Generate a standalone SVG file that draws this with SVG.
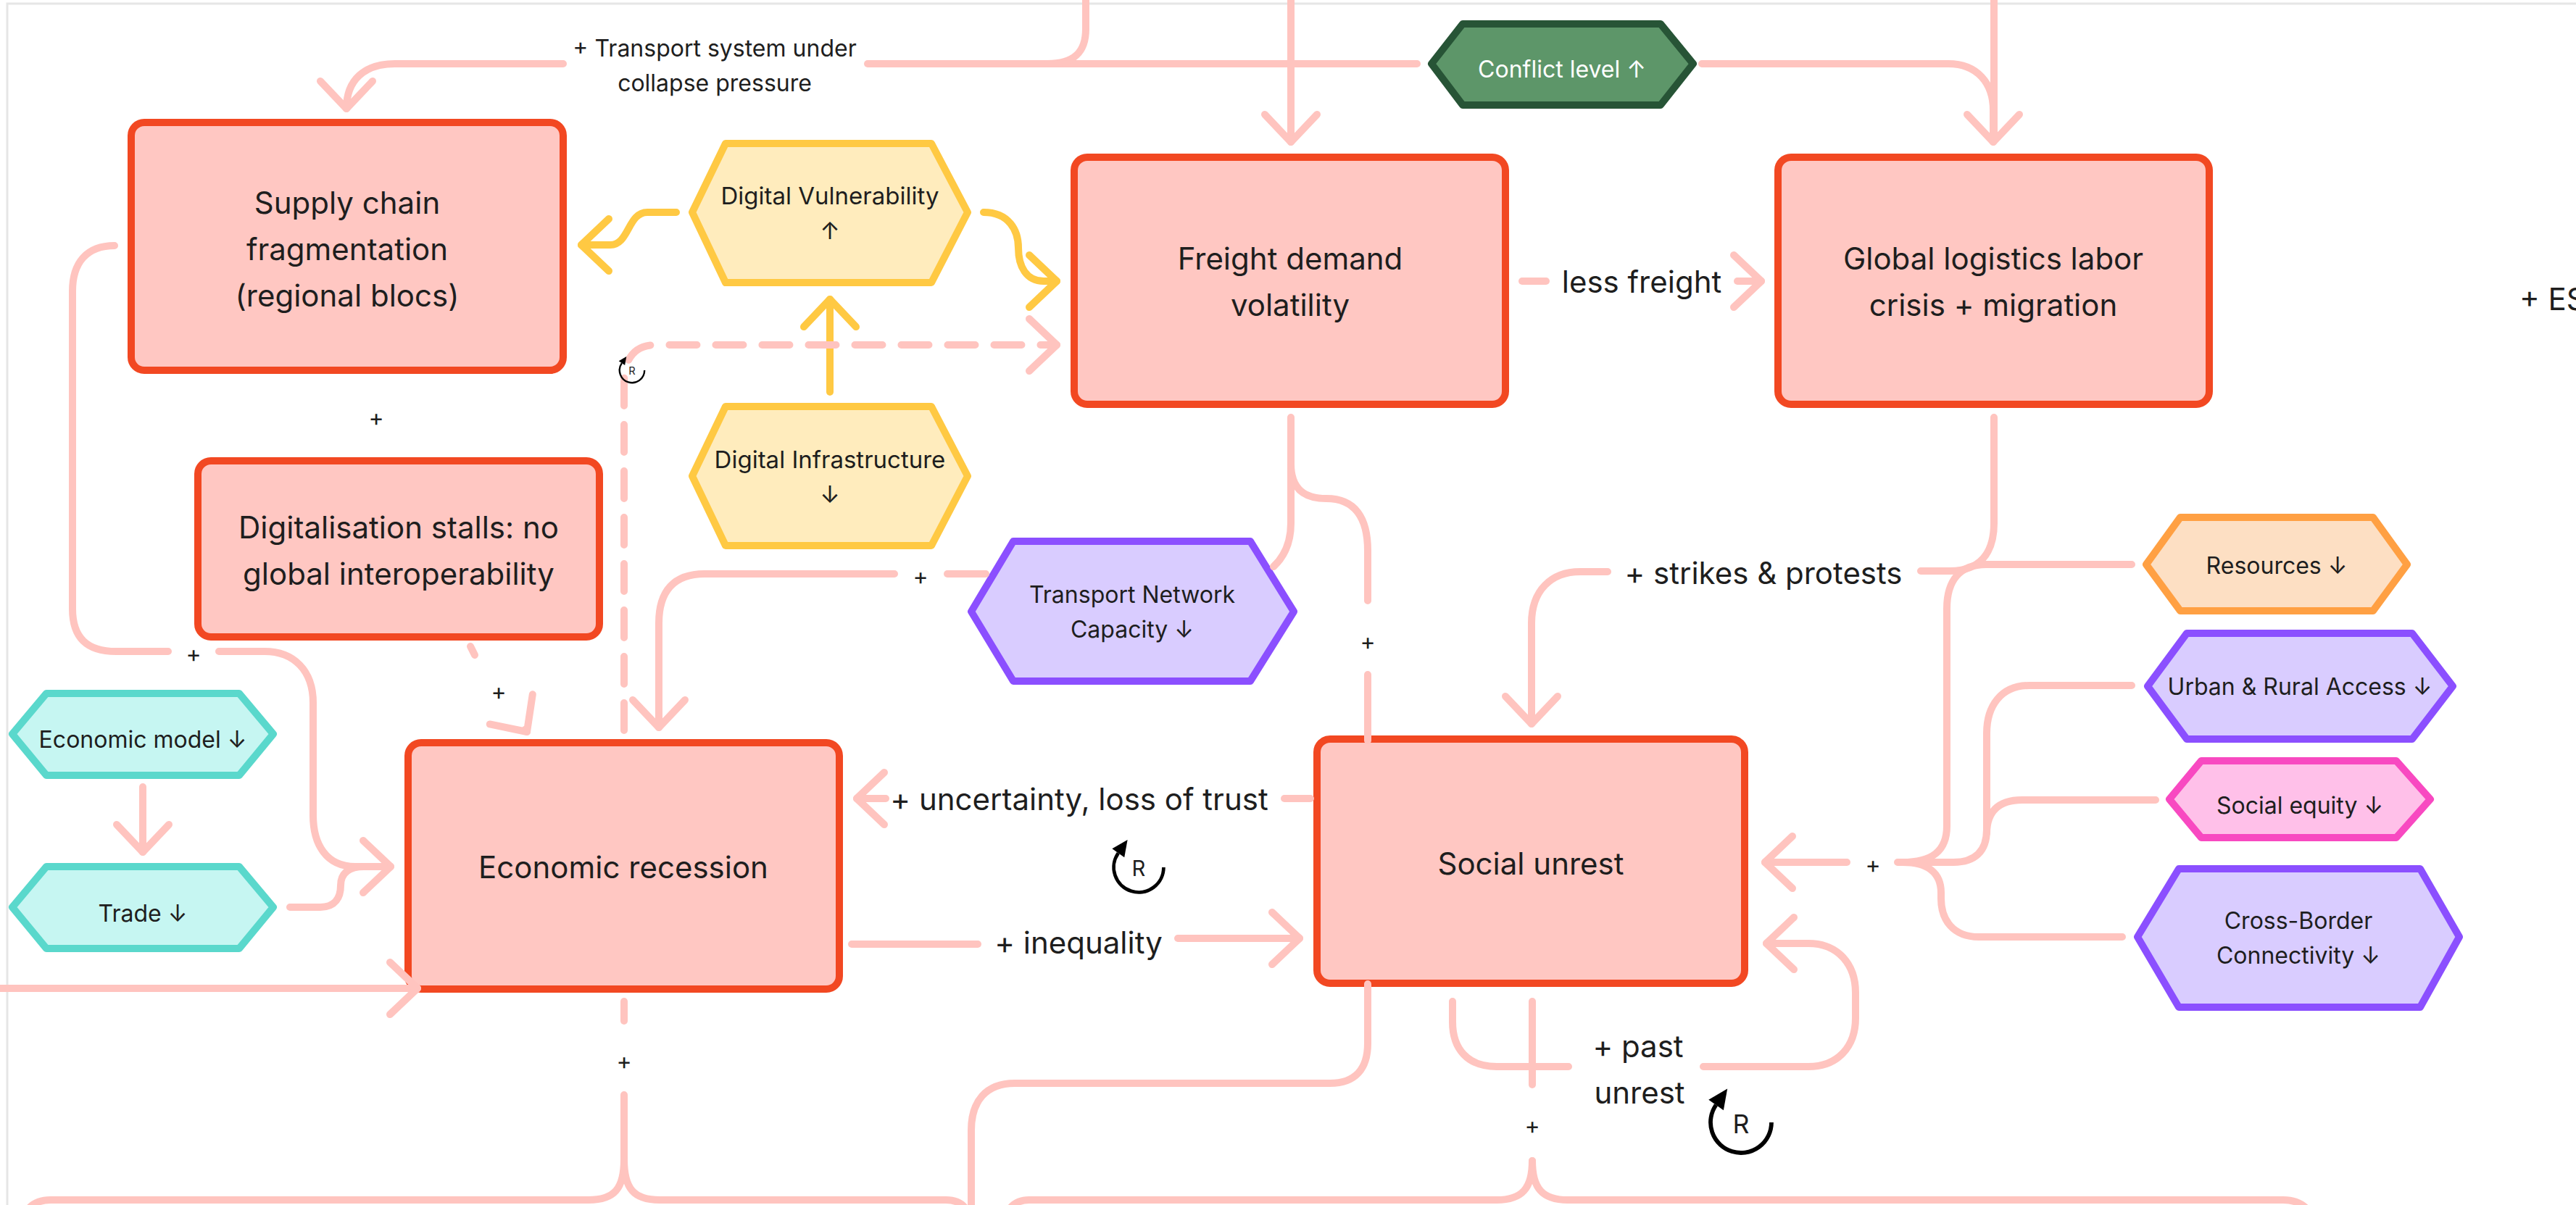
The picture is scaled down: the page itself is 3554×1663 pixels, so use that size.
<svg xmlns="http://www.w3.org/2000/svg" xmlns:xlink="http://www.w3.org/1999/xlink" width="3554" height="1663" viewBox="0 0 3554 1663">
  <style>
    .t { font-family: Inter, "Noto Sans", "Liberation Sans", sans-serif; fill: #1e1e1e; text-anchor: middle; dominant-baseline: central; }
    .tb { font-size: 42px; }
    .th { font-size: 32px; }
    .tl { font-size: 42px; }
    .ts { font-size: 32px; }
    .box { fill: #ffc7c2; stroke: #f24822; stroke-width: 10; }
    .hex { stroke-width: 10; stroke-linejoin: round; }
    .yel { fill: #ffecbd; stroke: #ffc943; }
    .pur { fill: #d9ccff; stroke: #8b4fff; }
    .grn { fill: #5d9669; stroke: #275436; }
    .org { fill: #fddfc3; stroke: #ffa043; }
    .pnk { fill: #ffc0e9; stroke: #f849c1; }
    .teal { fill: #c6f6f2; stroke: #5ad8cc; }
    .c { fill: none; stroke: #ffc4bf; stroke-width: 10; stroke-linecap: round; stroke-linejoin: round; }
    .cy { stroke: #ffc943; }
    .dash { stroke-dasharray: 38 26; }
    .arr { marker-end: url(#ah); }
    .arry { marker-end: url(#ahy); }
  </style>
  <defs>
    <marker id="ah" markerUnits="userSpaceOnUse" orient="auto" markerWidth="90" markerHeight="90" refX="0" refY="0" style="overflow:visible">
      <path d="M-38,-36 L0,0 L-38,36" fill="none" stroke="#ffc4bf" stroke-width="10" stroke-linecap="round" stroke-linejoin="round"/>
    </marker>
    <marker id="ahy" markerUnits="userSpaceOnUse" orient="auto" markerWidth="90" markerHeight="90" refX="0" refY="0" style="overflow:visible">
      <path d="M-38,-36 L0,0 L-38,36" fill="none" stroke="#ffc943" stroke-width="10" stroke-linecap="round" stroke-linejoin="round"/>
    </marker>
    <!-- reinforcing loop badge, radius 40 around the origin -->
    <g id="loopR">
      <path d="M40,0 A40,40 0 1 1 -32.8,-22.9" fill="none" stroke="#000" stroke-width="5.5"/>
      <path d="M-17.9,-44.2 L-23,-16 L-42.6,-29.8 Z" fill="#000"/>
      <text x="0" y="2" font-family="Inter, 'Noto Sans', 'Liberation Sans', sans-serif" font-size="34" fill="#1e1e1e" text-anchor="middle" dominant-baseline="central">R</text>
    </g>
  </defs>

  <rect width="3554" height="1663" fill="#ffffff"/>
  <!-- board frame -->
  <path d="M10,1663 V5 H3554" fill="none" stroke="#e6e6e6" stroke-width="3"/>

  <!-- nodes -->
  <g id="supply-chain">
    <rect class="box" x="181" y="169" width="596" height="342" rx="18"/>
    <text class="t tb"><tspan x="479" y="279">Supply chain</tspan><tspan x="479" y="343">fragmentation</tspan><tspan x="479" y="407">(regional blocs)</tspan></text>
  </g>
  <g id="freight-demand">
    <rect class="box" x="1482" y="217" width="595" height="341" rx="18"/>
    <text class="t tb"><tspan x="1780" y="356">Freight demand</tspan><tspan x="1780" y="420">volatility</tspan></text>
  </g>
  <g id="labor-crisis">
    <rect class="box" x="2453" y="217" width="595" height="341" rx="18"/>
    <text class="t tb"><tspan x="2750" y="356">Global logistics labor</tspan><tspan x="2750" y="420">crisis + migration</tspan></text>
  </g>
  <g id="digitalisation">
    <rect class="box" x="273" y="636" width="554" height="243" rx="18"/>
    <text class="t tb"><tspan x="550" y="727">Digitalisation stalls: no</tspan><tspan x="550" y="791">global interoperability</tspan></text>
  </g>
  <g id="economic-recession">
    <rect class="box" x="563" y="1025" width="595" height="340" rx="18"/>
    <text class="t tb" x="860" y="1196">Economic recession</text>
  </g>
  <g id="social-unrest">
    <rect class="box" x="1817" y="1020" width="590" height="337" rx="18"/>
    <text class="t tb" x="2112" y="1191">Social unrest</text>
  </g>

  <g id="digital-vulnerability">
    <polygon class="hex yel" points="955,293 1001,198 1285,198 1335,293 1285,390 1001,390"/>
    <text class="t th" style="font-size:33px"><tspan x="1145" y="270">Digital Vulnerability</tspan><tspan x="1145" y="318">↑</tspan></text>
  </g>
  <g id="digital-infrastructure">
    <polygon class="hex yel" points="955,657 1001,561 1285,561 1335,657 1285,753 1001,753"/>
    <text class="t th" style="font-size:33px"><tspan x="1145" y="634">Digital Infrastructure</tspan><tspan x="1145" y="682">↓</tspan></text>
  </g>
  <g id="transport-capacity">
    <polygon class="hex pur" points="1340,844 1398,747 1725,747 1785,844 1725,940 1398,940"/>
    <text class="t th"><tspan x="1562" y="820">Transport Network</tspan><tspan x="1562" y="868">Capacity ↓</tspan></text>
  </g>
  <g id="conflict-level">
    <polygon class="hex grn" points="1975,88 2018,33 2291,33 2336,88 2291,145 2018,145"/>
    <text class="t th" x="2155" y="95" style="fill:#ffffff">Conflict level ↑</text>
  </g>
  <g id="resources">
    <polygon class="hex org" points="2961,779 3008,714 3274,714 3321,779 3274,843 3008,843"/>
    <text class="t th" x="3141" y="780">Resources ↓</text>
  </g>
  <g id="urban-rural-access">
    <polygon class="hex pur" points="2963,947 3017,874 3328,874 3384,947 3328,1020 3017,1020"/>
    <text class="t th" x="3173" y="947">Urban &amp; Rural Access ↓</text>
  </g>
  <g id="social-equity">
    <polygon class="hex pnk" points="2993,1103 3037,1050 3306,1050 3353,1103 3306,1156 3037,1156"/>
    <text class="t th" x="3173" y="1111">Social equity ↓</text>
  </g>
  <g id="cross-border">
    <polygon class="hex pur" points="2949,1293 3006,1199 3339,1199 3393,1293 3339,1390 3006,1390"/>
    <text class="t th"><tspan x="3171" y="1270">Cross-Border</tspan><tspan x="3171" y="1318">Connectivity ↓</tspan></text>
  </g>
  <g id="economic-model">
    <polygon class="hex teal" points="17,1013 64,957 330,957 377,1013 330,1070 64,1070"/>
    <text class="t th" x="197" y="1020">Economic model ↓</text>
  </g>
  <g id="trade">
    <polygon class="hex teal" points="17,1252 64,1196 330,1196 377,1252 330,1309 64,1309"/>
    <text class="t th" x="197" y="1260">Trade ↓</text>
  </g>

  <!-- connectors -->
  <g id="connectors">
    <!-- conflict level -> supply chain, with feed from above -->
    <path class="c arr" d="M777,88 H545 C503,88 478,110 478,150"/>
    <path class="c" d="M1197,88 H1955"/>
    <path class="c" d="M1498,-10 V40 C1498,72 1482,88 1445,88"/>
    <!-- feed from above -> freight demand -->
    <path class="c arr" d="M1781,-10 V196"/>
    <!-- conflict level -> labor crisis, with feed from above -->
    <path class="c arr" d="M2348,88 H2688 C2728,88 2750,115 2750,152 V196"/>
    <path class="c" d="M2751,-10 V190"/>

    <!-- digital layer -->
    <path class="c cy arry" d="M933,293 H893 C866,293 868,338 842,338 H802"/>
    <path class="c cy arry" d="M1357,293 C1392,293 1405,318 1405,342 C1405,368 1416,388 1440,388 H1458"/>
    <path class="c cy arry" d="M1145,541 V413"/>

    <!-- recession -> freight demand (dashed) -->
    <path class="c dash arr" d="M861,1008 V530 C861,495 875,476 905,476 H1458"/>

    <!-- freight demand -> labor crisis -->
    <path class="c" d="M2100,388 H2133"/>
    <path class="c arr" d="M2397,388 H2430"/>

    <!-- freight demand -> economic recession (behind transport capacity) -->
    <path class="c" d="M1781,576 V722 C1781,748 1772,768 1757,782"/>
    <path class="c" d="M1360,792 H1307"/>
    <path class="c arr" d="M1234,792 H972 C930,792 909,815 909,860 V1004"/>

    <!-- freight demand -> social unrest -->
    <path class="c" d="M1781,640 C1781,675 1800,688 1830,688 C1870,688 1887,715 1887,760 V829"/>
    <path class="c" d="M1887,931 V1022"/>

    <!-- labor crisis -> social unrest -->
    <path class="c" d="M2751,576 V722 C2751,765 2730,788 2690,788 H2650"/>
    <path class="c arr" d="M2218,789 H2180 C2140,789 2113,815 2113,860 V999"/>

    <!-- supply chain -> economic recession -->
    <path class="c" d="M158,339 C120,339 100,362 100,402 V840 C100,880 120,899 160,899 H232"/>
    <path class="c arr" d="M302,899 H365 C405,899 432,925 432,970 V1125 C432,1165 450,1196 490,1196 H539"/>
    <!-- trade -> economic recession -->
    <path class="c" d="M400,1252 H442 C463,1252 470,1238 470,1222 C470,1206 480,1196 502,1196 H530"/>
    <!-- economic model -> trade -->
    <path class="c arr" d="M197,1086 V1176"/>
    <!-- inflow from the left -->
    <path class="c arr" d="M-10,1364 H576"/>
    <!-- digitalisation -> economic recession -->
    <path class="c" d="M649,892 L655,904"/>
    <path class="c arr" d="M724.7,1006.7 L727,1010"/>

    <!-- social unrest <-> economic recession -->
    <path class="c" d="M1808,1102 H1772"/>
    <path class="c arr" d="M1222,1102 H1182"/>
    <path class="c" d="M1175,1303 H1349"/>
    <path class="c arr" d="M1625,1295 H1793"/>

    <!-- external factors -> social unrest -->
    <path class="c" d="M2941,779 H2740 C2705,779 2686,800 2686,840 V1140 C2686,1175 2665,1190 2625,1190"/>
    <path class="c" d="M2941,946 H2800 C2760,946 2741,975 2741,1012 V1145 C2741,1175 2725,1190 2695,1190 H2625"/>
    <path class="c" d="M2974,1104 H2790 C2755,1104 2741,1122 2741,1150"/>
    <path class="c" d="M2928,1293 H2730 C2695,1293 2678,1270 2678,1240 V1232 C2678,1205 2660,1190 2625,1190 H2618"/>
    <path class="c arr" d="M2548,1190 H2435"/>

    <!-- past unrest loop -->
    <path class="c" d="M2004,1382 V1410 C2004,1448 2025,1472 2065,1472 H2164"/>
    <path class="c arr" d="M2350,1472 H2495 C2535,1472 2560,1445 2560,1405 V1370 C2560,1330 2535,1302 2495,1302 H2437"/>

    <!-- outflows toward the lower part of the board -->
    <path class="c" d="M1887,1358 V1440 C1887,1475 1870,1495 1835,1495 H1400 C1360,1495 1340,1520 1340,1560 V1700"/>
    <path class="c" d="M2114,1382 V1497"/>
    <path class="c" d="M2114,1602 C2114,1640 2100,1656 2065,1656 H1420 C1398,1656 1385,1670 1384,1700"/>
    <path class="c" d="M2114,1602 C2114,1640 2128,1656 2163,1656 H3150 C3175,1656 3193,1670 3195,1700"/>
    <path class="c" d="M861,1382 V1409"/>
    <path class="c" d="M861,1511 V1600 C861,1640 848,1656 812,1656 H70 C45,1656 30,1670 29,1700"/>
    <path class="c" d="M861,1600 C861,1640 874,1656 910,1656 H1305 C1328,1656 1340,1670 1340,1700"/>
  </g>

  <!-- connector labels -->
  <g id="labels">
    <text class="t ts"><tspan x="986" y="66">+ Transport system under</tspan><tspan x="986" y="114">collapse pressure</tspan></text>
    <text class="t tl" x="2265" y="388">less freight</text>
    <text class="t tl" x="2433" y="790">+ strikes &amp; protests</text>
    <text class="t tl" x="1489" y="1102">+ uncertainty, loss of trust</text>
    <text class="t tl" x="1488" y="1300">+ inequality</text>
    <text class="t tl"><tspan x="2260" y="1443">+ past</tspan><tspan x="2262" y="1507">unrest</tspan></text>
    <text class="t tl" x="3476" y="412" style="text-anchor:start">+ ES</text>
    <text class="t ts" x="519" y="576">+</text>
    <text class="t ts" x="267" y="902">+</text>
    <text class="t ts" x="688" y="954">+</text>
    <text class="t ts" x="1270" y="795">+</text>
    <text class="t ts" x="1887" y="885">+</text>
    <text class="t ts" x="861" y="1464">+</text>
    <text class="t ts" x="2114" y="1553">+</text>
    <text class="t ts" x="2584" y="1193">+</text>
  </g>

  <!-- reinforcing loop markers -->
  <g id="loops">
    <use href="#loopR" xlink:href="#loopR" transform="translate(872 511) scale(0.43)"/>
    <use href="#loopR" xlink:href="#loopR" transform="translate(1571 1197) scale(0.86)"/>
    <use href="#loopR" xlink:href="#loopR" transform="translate(2402 1549) scale(1.05)"/>
  </g>
</svg>
